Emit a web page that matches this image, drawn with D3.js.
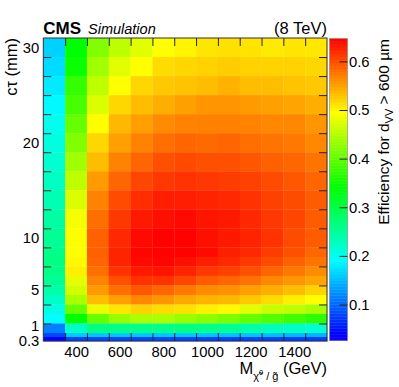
<!DOCTYPE html>
<html>
<head>
<meta charset="utf-8">
<script src="https://cdn.jsdelivr.net/npm/d3@7"></script>
<style>
body { margin: 0; background: #fff; }
svg text { font-family: "Liberation Sans", Arial, Helvetica, sans-serif; fill: #000; }
</style>
</head>
<body>
<div id="container"><svg></svg></div>
<script>
let width = 399;
let height = 387;

// mass points (GeV), one column per point
let masses = [300, 400, 500, 600, 700, 800, 900, 1000, 1100, 1200, 1300, 1400, 1500];
let massLabels = [400, 600, 800, 1000, 1200, 1400];

// c tau bins (mm), upper edges first
let ctEdges = [31, 29, 27, 25, 23, 21, 19, 17, 15, 13, 11, 9, 8, 7, 6, 5, 4, 3, 2, 1, 0, -0.42, -0.84];
let ctTicks = [1, 3, 5, 7, 9, 11, 13, 15, 17, 19, 21, 23, 25, 27, 29];
let ctLabels = ['30', '20', '10', '5', '1', '0.3'];
let ctLabelPos = [30, 20, 10, 4.5, 0.75, -0.8];

// colour axis
let zRange = [0.026, 0.647];
let zTicks = [0.1, 0.2, 0.3, 0.4, 0.5, 0.6];

// efficiency, one row per c tau bin (top row first), one value per mass
let eff = [
    [0.164, 0.343, 0.420, 0.456, 0.477, 0.495, 0.501, 0.510, 0.513, 0.511, 0.507, 0.510, 0.509],
    [0.170, 0.349, 0.438, 0.477, 0.495, 0.516, 0.519, 0.522, 0.525, 0.522, 0.522, 0.522, 0.519],
    [0.179, 0.373, 0.456, 0.495, 0.519, 0.528, 0.531, 0.534, 0.540, 0.534, 0.534, 0.531, 0.528],
    [0.188, 0.385, 0.474, 0.519, 0.534, 0.543, 0.552, 0.558, 0.558, 0.555, 0.552, 0.549, 0.543],
    [0.200, 0.403, 0.495, 0.537, 0.552, 0.564, 0.569, 0.570, 0.570, 0.569, 0.566, 0.566, 0.558],
    [0.209, 0.420, 0.519, 0.552, 0.569, 0.581, 0.587, 0.584, 0.587, 0.581, 0.578, 0.575, 0.566],
    [0.218, 0.438, 0.534, 0.569, 0.587, 0.599, 0.602, 0.599, 0.599, 0.596, 0.590, 0.587, 0.578],
    [0.227, 0.456, 0.555, 0.587, 0.605, 0.614, 0.617, 0.614, 0.611, 0.608, 0.602, 0.596, 0.587],
    [0.236, 0.474, 0.569, 0.602, 0.620, 0.629, 0.629, 0.626, 0.623, 0.617, 0.608, 0.602, 0.593],
    [0.245, 0.489, 0.581, 0.614, 0.632, 0.638, 0.641, 0.635, 0.632, 0.623, 0.614, 0.605, 0.593],
    [0.254, 0.495, 0.590, 0.623, 0.641, 0.646, 0.646, 0.638, 0.632, 0.626, 0.617, 0.602, 0.593],
    [0.260, 0.495, 0.590, 0.626, 0.644, 0.646, 0.646, 0.641, 0.629, 0.623, 0.611, 0.599, 0.587],
    [0.265, 0.498, 0.587, 0.626, 0.641, 0.644, 0.638, 0.629, 0.623, 0.614, 0.602, 0.590, 0.578],
    [0.263, 0.504, 0.581, 0.617, 0.632, 0.635, 0.626, 0.614, 0.608, 0.599, 0.587, 0.575, 0.564],
    [0.254, 0.480, 0.569, 0.599, 0.617, 0.617, 0.605, 0.593, 0.587, 0.578, 0.566, 0.558, 0.549],
    [0.242, 0.468, 0.555, 0.581, 0.596, 0.587, 0.575, 0.564, 0.561, 0.552, 0.543, 0.534, 0.522],
    [0.224, 0.444, 0.534, 0.552, 0.566, 0.558, 0.546, 0.540, 0.537, 0.528, 0.516, 0.504, 0.495],
    [0.206, 0.403, 0.483, 0.510, 0.522, 0.516, 0.513, 0.504, 0.498, 0.477, 0.462, 0.456, 0.444],
    [0.191, 0.343, 0.403, 0.432, 0.444, 0.444, 0.432, 0.426, 0.415, 0.403, 0.391, 0.379, 0.367],
    [0.116, 0.224, 0.265, 0.260, 0.260, 0.260, 0.265, 0.260, 0.254, 0.242, 0.230, 0.224, 0.218],
    [0.081, 0.160, 0.158, 0.158, 0.158, 0.158, 0.158, 0.155, 0.155, 0.155, 0.152, 0.150, 0.147],
    [0.040, 0.078, 0.080, 0.080, 0.080, 0.080, 0.080, 0.078, 0.078, 0.078, 0.077, 0.076, 0.075]
];

let fontSize = 14.8;

// rainbow palette: blue (low) -> red (high)
let hue = d3.scaleLinear().domain(zRange).range([245, 0]).clamp(true);
function color(v) {
    return d3.hsl(hue(v), 1, 0.5).toString();
}

function draw_main() {
    let padding = {left: 43.3, right: 72, top: 38, bottom: 46};
    let svg = d3.select('#container').select('svg')
        .attr('width', width)
        .attr('height', height);

    let x = d3.scaleLinear()
        .domain([250, 1550])
        .range([padding.left, width - padding.right]);
    let y = d3.scaleLinear()
        .domain([-0.84, 31])
        .range([height - padding.bottom, padding.top]);

    // cells
    let cells = [];
    eff.forEach((row, i) => {
        row.forEach((v, j) => {
            cells.push({m: masses[j], hi: ctEdges[i], lo: ctEdges[i + 1], v: v});
        });
    });
    svg.append('g')
        .selectAll('rect')
        .data(cells)
        .enter().append('rect')
        .attr('x', d => x(d.m - 50))
        .attr('y', d => y(d.hi))
        .attr('width', d => x(d.m + 50) - x(d.m - 50) + 0.3)
        .attr('height', d => y(d.lo) - y(d.hi) + 0.3)
        .attr('fill', d => color(d.v));

    let x0 = padding.left, x1 = width - padding.right;
    let y0 = padding.top, y1 = height - padding.bottom;
    let edgeTicks = masses.slice(1).map(m => m - 50);

    // tick marks (inside the frame)
    let axes = [
        [d3.axisBottom(x).tickValues(edgeTicks), `translate(0, ${y1})`],
        [d3.axisTop(x).tickValues(edgeTicks), `translate(0, ${y0})`],
        [d3.axisLeft(y).tickValues(ctTicks), `translate(${x0}, 0)`],
        [d3.axisRight(y).tickValues(ctTicks), `translate(${x1}, 0)`]
    ];
    axes.forEach(a => {
        let g = svg.append('g')
            .attr('transform', a[1])
            .call(a[0].tickSize(-8).tickFormat(''));
        g.select('.domain').remove();
        g.selectAll('line').attr('stroke', '#222');
    });

    // tick labels
    let xl = svg.append('g')
        .attr('transform', `translate(0, ${y1})`)
        .call(d3.axisBottom(x).tickValues(massLabels).tickSize(0).tickPadding(5.5).tickFormat(d3.format('d')));
    xl.select('.domain').remove();
    xl.selectAll('text').attr('font-size', fontSize).attr('font-family', null);

    let yl = svg.append('g')
        .attr('transform', `translate(${x0}, 0)`)
        .call(d3.axisLeft(y).tickValues(ctLabelPos).tickSize(0).tickPadding(4)
            .tickFormat((d, i) => ctLabels[i]));
    yl.select('.domain').remove();
    yl.selectAll('text').attr('font-size', fontSize).attr('font-family', null);

    // frame
    svg.append('rect')
        .attr('x', x0).attr('y', y0)
        .attr('width', x1 - x0).attr('height', y1 - y0)
        .attr('fill', 'none')
        .attr('stroke', '#333')
        .attr('stroke-width', 1);

    // colour bar
    let cb = {left: 329.5, right: 347.5};
    let z = d3.scaleLinear().domain(zRange).range([y1 - 0.5, y0 + 0.5]);
    let steps = d3.range(100).map(i => zRange[0] + (zRange[1] - zRange[0]) * i / 100);
    let dz = (zRange[1] - zRange[0]) / 100;
    svg.append('g')
        .selectAll('rect')
        .data(steps)
        .enter().append('rect')
        .attr('x', cb.left)
        .attr('width', cb.right - cb.left)
        .attr('y', d => z(d + dz))
        .attr('height', d => z(d) - z(d + dz) + 0.4)
        .attr('fill', d => color(d + dz / 2));
    svg.append('rect')
        .attr('x', cb.left).attr('y', z(zRange[1]))
        .attr('width', cb.right - cb.left)
        .attr('height', z(zRange[0]) - z(zRange[1]))
        .attr('fill', 'none')
        .attr('stroke', '#888')
        .attr('stroke-width', 0.6);
    let zg = svg.append('g')
        .attr('transform', `translate(${cb.right}, 0)`)
        .call(d3.axisRight(z).tickValues(zTicks).tickSize(-8).tickPadding(1.5).tickFormat(d3.format('.1f')));
    zg.select('.domain').remove();
    zg.selectAll('line').attr('stroke', '#222');
    zg.selectAll('text').attr('font-size', fontSize).attr('font-family', null);

    // colour bar title
    let zt = svg.append('text')
        .attr('transform', `translate(389, ${y0 + 1}) rotate(-90)`)
        .attr('text-anchor', 'end')
        .attr('font-size', 15.5);
    zt.append('tspan').text('Efficiency for d');
    zt.append('tspan').attr('font-size', 11).attr('dy', 4).text('VV');
    zt.append('tspan').attr('dy', -4).text(' > 600 \u00b5m');

    // y title
    svg.append('text')
        .attr('transform', `translate(17, ${y0}) rotate(-90)`)
        .attr('text-anchor', 'end')
        .attr('font-size', 16.5)
        .text('c\u03c4 (mm)');

    // x title
    let xt = svg.append('text')
        .attr('x', x1)
        .attr('y', 374)
        .attr('text-anchor', 'end')
        .attr('font-size', 16.5);
    xt.append('tspan').text('M');
    xt.append('tspan').attr('font-size', 11).attr('dy', 5.5).text('\u03c7\u0303');
    xt.append('tspan').attr('font-size', 7.5).attr('dy', -5).text('0');
    xt.append('tspan').attr('font-size', 11).attr('dy', 5).text(' / g\u0303');
    xt.append('tspan').attr('dy', -5.5).text(' (GeV)');

    // header
    svg.append('text')
        .attr('x', x0)
        .attr('y', 33.5)
        .attr('font-size', 17)
        .attr('font-weight', 'bold')
        .text('CMS');
    svg.append('text')
        .attr('x', 88)
        .attr('y', 33.5)
        .attr('font-size', 14.5)
        .attr('font-style', 'italic')
        .text('Simulation');
    svg.append('text')
        .attr('x', x1)
        .attr('y', 33.5)
        .attr('text-anchor', 'end')
        .attr('font-size', 16.5)
        .text('(8 TeV)');
}

draw_main();
</script>
</body>
</html>
